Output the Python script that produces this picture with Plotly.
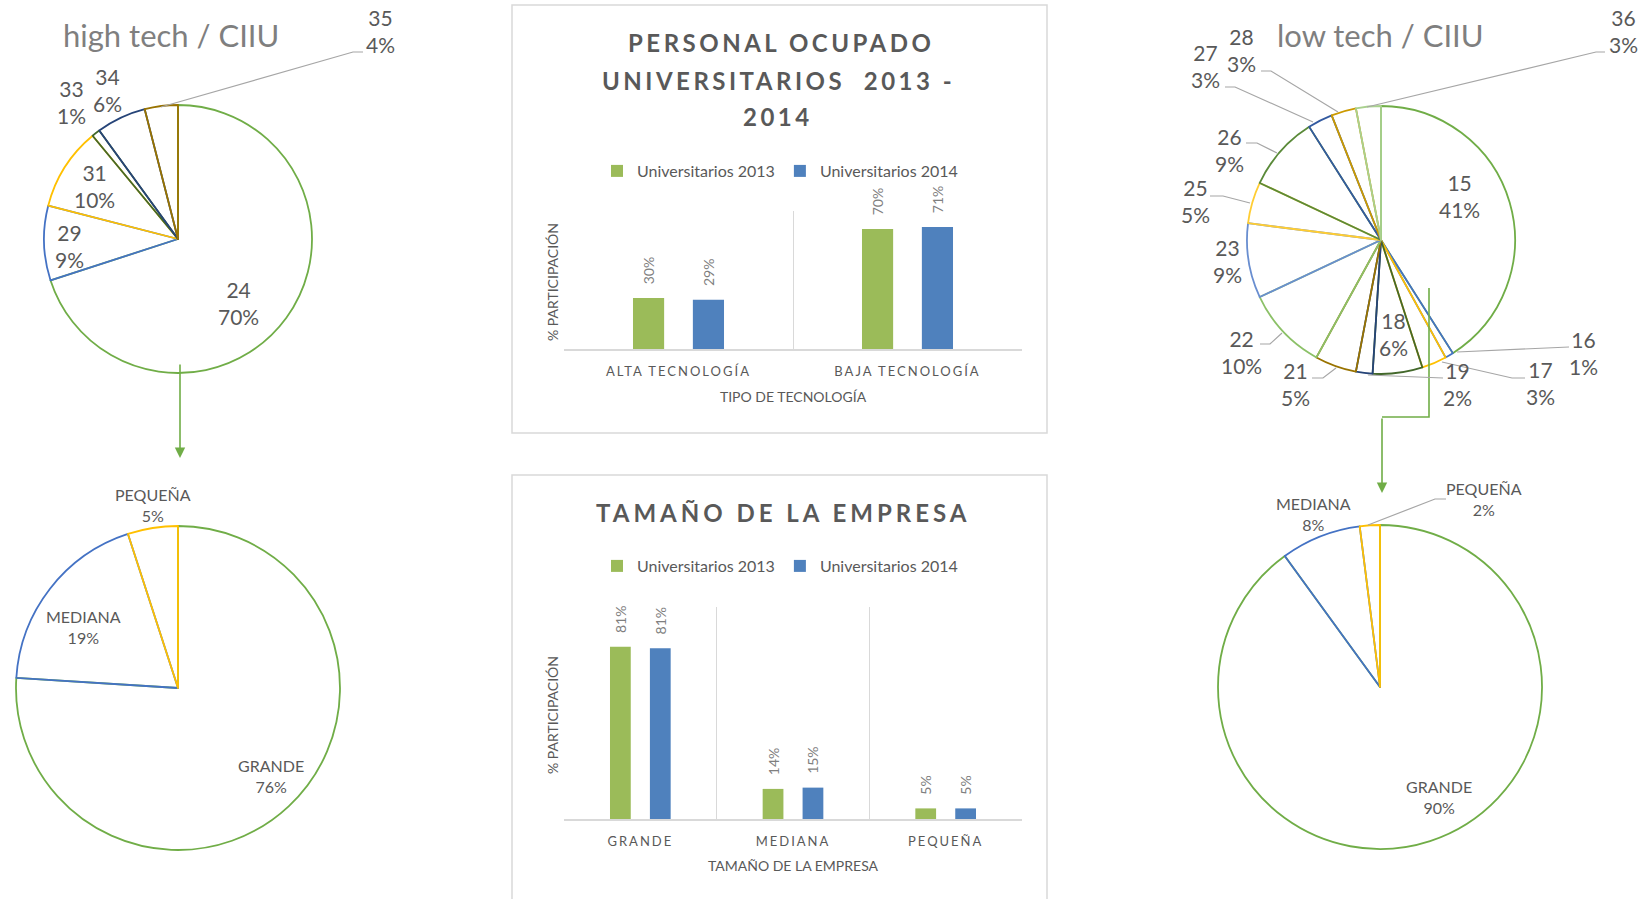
import plotly.graph_objects as go

W, H = 1650, 899


def px(x):
    return x / W


def py(y):
    return 1 - y / H


# ---------------- DATA ----------------
high_codes = ["24", "29", "31", "33", "34", "35"]
high_share = [70, 9, 10, 1, 6, 4]

low_codes = ["15", "16", "17", "18", "19", "21", "22", "23", "25", "26", "27", "28", "36"]
low_share = [41, 1, 3, 6, 2, 5, 10, 9, 5, 9, 3, 3, 3]

size_cats = ["GRANDE", "MEDIANA", "PEQUEÑA"]
high_size_share = [76, 19, 5]
low_size_share = [90, 8, 2]

tech_cats = ["ALTA TECNOLOGÍA", "BAJA TECNOLOGÍA"]
tech_2013 = [0.297, 0.700]
tech_2014 = [0.287, 0.712]

size_2013 = [0.812, 0.142, 0.050]
size_2014 = [0.806, 0.148, 0.050]

series_names = ["Universitarios 2013", "Universitarios 2014"]

# ---------------- STYLE ----------------
FONT = "Lato"
TXT = "#595959"
TXT_LIGHT = "#7F7F7F"
GRID = "#D9D9D9"
LEADER = "#A6A6A6"

high_colors = ["#70AD47", "#4472C4", "#FFC000", "#43682B", "#264478", "#997300"]
low_colors = ["#70AD47", "#4472C4", "#FFC000", "#43682B", "#264478", "#997300",
              "#8CC168", "#698ED0", "#FFCD33", "#5A8A39", "#335AA0", "#CC9A00", "#A9D18E"]
size_colors = ["#70AD47", "#4472C4", "#FFC000"]
bar_colors = ["#9BBB59", "#4F81BD"]

# pie placement (center px, radius px)
pies_geom = {
    "high": (178, 239, 134),
    "low": (1381, 240, 134),
    "high_size": (178, 688, 162),
    "low_size": (1380, 687, 162),
}

# label positions (px) for pie labels
high_lbl_pos = [(239, 303), (69, 246), (94, 186), (71, 102), (107, 90), (380, 31)]
low_lbl_pos = [(1459, 196), (1583, 353), (1540, 383), (1393, 334), (1457, 384), (1295, 384),
               (1241, 352), (1227, 261), (1195, 201), (1229, 150), (1205, 66), (1241, 50),
               (1623, 31)]
high_size_lbl_pos = [(271, 776), (83, 627), (153, 505)]
low_size_lbl_pos = [(1439, 797), (1313, 514), (1484, 499)]

leaders = [
    [(161, 107), (353, 52), (363, 52)],
    [(1457, 352), (1569, 347)],
    [(1442, 362), (1512, 378), (1525, 378)],
    [(1368, 375), (1443, 378)],
    [(1336, 368), (1323, 378), (1312, 378)],
    [(1282, 333), (1270, 344), (1260, 344)],
    [(1250, 203), (1223, 196), (1210, 196)],
    [(1277, 153), (1257, 143), (1246, 143)],
    [(1313, 122), (1235, 87), (1225, 87)],
    [(1338, 112), (1271, 71), (1261, 71)],
    [(1367, 107), (1596, 52), (1605, 52)],
    [(1368, 525), (1435, 499), (1446, 499)],
]


def pie_domain(key):
    cx, cy, r = pies_geom[key]
    return dict(x=[px(cx - r), px(cx + r)], y=[py(cy + r), py(cy - r)])


fig = go.Figure()


def add_pie(labels, values, colors, key):
    fig.add_trace(go.Pie(
        labels=labels, values=values, sort=False, direction="clockwise", rotation=0,
        marker=dict(colors=["rgba(255,255,255,0)"] * len(values),
                    line=dict(color=colors, width=1.8)),
        textinfo="none", showlegend=False, domain=pie_domain(key),
        hovertemplate="%{label}: %{value}%<extra></extra>",
    ))


add_pie(high_codes, high_share, high_colors, "high")
add_pie(low_codes, low_share, low_colors, "low")
add_pie([c + " " for c in size_cats], high_size_share, size_colors, "high_size")
add_pie([c + "  " for c in size_cats], low_size_share, size_colors, "low_size")

LBL_TMPL = "\u00a0\u00a0\u00a0%{y:.0%}"

# bar charts
for i, (vals, col) in enumerate(zip([tech_2013, tech_2014], bar_colors)):
    fig.add_trace(go.Bar(
        x=tech_cats, y=vals, name=series_names[i], marker=dict(color=col, line=dict(width=0)),
        texttemplate=LBL_TMPL, textposition="outside", textangle=-90, constraintext="none",
        textfont=dict(family=FONT, size=14, color=TXT_LIGHT), cliponaxis=False,
        xaxis="x", yaxis="y", legend="legend",
    ))
for i, (vals, col) in enumerate(zip([size_2013, size_2014], bar_colors)):
    fig.add_trace(go.Bar(
        x=size_cats, y=vals, name=series_names[i], marker=dict(color=col, line=dict(width=0)),
        texttemplate=LBL_TMPL, textposition="outside", textangle=-90, constraintext="none",
        textfont=dict(family=FONT, size=14, color=TXT_LIGHT), cliponaxis=False,
        xaxis="x2", yaxis="y2", legend="legend2",
    ))

annotations = []


def lbl(x, y, text, size, color=TXT, **kw):
    annotations.append(dict(x=px(x), y=py(y), xref="paper", yref="paper", text=text,
                            showarrow=False, xanchor="center", yanchor="middle",
                            font=dict(family=FONT, size=size, color=color), **kw))


# pie titles
lbl(171, 35, "high tech / CIIU", 31, TXT_LIGHT)
lbl(1380, 35, "low tech / CIIU", 31, TXT_LIGHT)

# pie labels
for code, v, (x, y) in zip(high_codes, high_share, high_lbl_pos):
    lbl(x, y, f"{code}<br>{v}%", 21)
for code, v, (x, y) in zip(low_codes, low_share, low_lbl_pos):
    lbl(x, y, f"{code}<br>{v}%", 21)
for c, v, (x, y) in zip(size_cats, high_size_share, high_size_lbl_pos):
    lbl(x, y, f"{c}<br>{v}%", 16)
for c, v, (x, y) in zip(size_cats, low_size_share, low_size_lbl_pos):
    lbl(x, y, f"{c}<br>{v}%", 16)

# bar chart titles
SP = '<span style="letter-spacing:3.5px">{}</span>'
SP2 = '<span style="letter-spacing:4px">{}</span>'
lbl(781, 43, "<b>" + SP.format("PERSONAL OCUPADO") + "</b>", 24)
lbl(778, 80, "<b>" + SP.format("UNIVERSITARIOS  2013 -") + "</b>", 24)
lbl(778, 116, "<b>" + SP.format("2014") + "</b>", 24)
lbl(783, 512, "<b>" + SP2.format("TAMAÑO DE LA EMPRESA") + "</b>", 24)

# y-axis titles
lbl(552, 282, "% PARTICIPACIÓN", 14, textangle=-90)
lbl(552, 715, "% PARTICIPACIÓN", 14, textangle=-90)

# arrows
annotations.append(dict(x=px(180), y=py(458), xref="paper", yref="paper", ax=0, ay=-95,
                        showarrow=True, arrowhead=2, arrowsize=1.3, arrowwidth=1.6,
                        arrowcolor="#70AD47", text="", standoff=0))
annotations.append(dict(x=px(1382), y=py(493), xref="paper", yref="paper", ax=0, ay=-76,
                        showarrow=True, arrowhead=2, arrowsize=1.3, arrowwidth=1.6,
                        arrowcolor="#70AD47", text="", standoff=0))

shapes = []
# chart boxes
shapes.append(dict(type="rect", xref="paper", yref="paper", x0=px(512), x1=px(1047),
                   y0=py(433), y1=py(5), line=dict(color=GRID, width=1.5)))
shapes.append(dict(type="rect", xref="paper", yref="paper", x0=px(512), x1=px(1047),
                   y0=py(910), y1=py(475), line=dict(color=GRID, width=1.5)))
# elbow connector
shapes.append(dict(type="path", xref="paper", yref="paper",
                   path=f"M{px(1429)},{py(288)} L{px(1429)},{py(417)} L{px(1382)},{py(417)}",
                   line=dict(color="#70AD47", width=1.6)))
# leader lines
for pts in leaders:
    path = "M" + " L".join(f"{px(x)},{py(y)}" for x, y in pts)
    shapes.append(dict(type="path", xref="paper", yref="paper", path=path,
                       line=dict(color=LEADER, width=1.2)))

TICK_SP = '<span style="letter-spacing:2px">{}</span>'


def xaxis_cfg(cats, title, anchor, standoff):
    return dict(domain=[px(564), px(1022)], anchor=anchor, type="category",
                tickson="boundaries", showgrid=True, gridcolor=GRID, gridwidth=1.2,
                showline=True, linecolor=GRID, linewidth=1.5, ticks="",
                tickmode="array", tickvals=cats, ticktext=[TICK_SP.format(c) for c in cats],
                tickfont=dict(family=FONT, size=13, color=TXT), ticklabelstandoff=10,
                title=dict(text=title, font=dict(family=FONT, size=14, color=TXT),
                           standoff=standoff),
                fixedrange=True)


def yaxis_cfg(dom, rng, anchor):
    return dict(domain=dom, range=rng, anchor=anchor, showticklabels=False, showgrid=False,
                zeroline=False, showline=False, ticks="", fixedrange=True)


fig.update_layout(
    width=W, height=H, margin=dict(l=0, r=0, t=0, b=0),
    paper_bgcolor="white", plot_bgcolor="rgba(0,0,0,0)",
    font=dict(family=FONT, color=TXT),
    barmode="group", bargap=0.477, bargroupgap=0.48,
    xaxis=xaxis_cfg(tech_cats, "TIPO DE TECNOLOGÍA", "y", 14),
    yaxis=yaxis_cfg([py(349), py(211)], [0, 0.805], "x"),
    xaxis2=xaxis_cfg(size_cats, "TAMAÑO DE LA EMPRESA", "y2", 13),
    yaxis2=yaxis_cfg([py(819), py(607)], [0, 1.0], "x2"),
    legend=dict(x=px(780), y=py(171), xanchor="center", yanchor="middle", orientation="h",
                font=dict(family=FONT, size=16, color=TXT), bgcolor="rgba(0,0,0,0)"),
    legend2=dict(x=px(780), y=py(566), xanchor="center", yanchor="middle", orientation="h",
                 font=dict(family=FONT, size=16, color=TXT), bgcolor="rgba(0,0,0,0)"),
    annotations=annotations, shapes=shapes,
)

fig.write_html("out.html")
